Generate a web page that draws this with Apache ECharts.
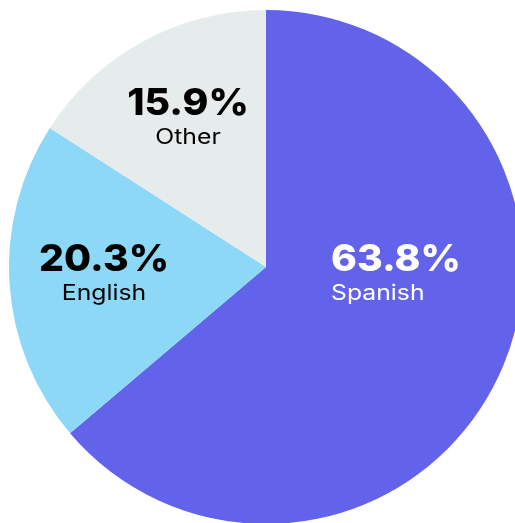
<!DOCTYPE html>
<html><head><meta charset="utf-8">
<script src="https://cdn.jsdelivr.net/npm/echarts@6/dist/echarts.min.js"></script>
<style>html,body{margin:0;padding:0;background:#fff}#c{width:515px;height:523px}</style>
</head><body><div id="c"></div>
<script>
const categories = ['Spanish', 'English', 'Other'];
const values = [63.8, 20.3, 15.9];
const colors = ['#6262EA', '#8CD8F6', '#E6EBEB'];
const textColors = ['#ffffff', '#000000', '#000000'];

const chart = echarts.init(document.getElementById('c'), null, {renderer: 'canvas'});
const font = 'Inter, sans-serif';
const labelPos = [
  {x: 331, y: 260, align: 'left'},
  {x: 104, y: 260, align: 'center'},
  {x: 188, y: 104, align: 'center'}
];
const graphics = [];
categories.forEach((c, i) => {
  const p = labelPos[i];
  graphics.push({type: 'text', z: 100, x: p.x, y: p.y, scaleX: 1.06, style: {
    text: values[i].toFixed(1) + '%', fill: textColors[i],
    fontFamily: font, fontWeight: 800, fontSize: 37,
    textAlign: p.align, textVerticalAlign: 'middle'}});
  graphics.push({type: 'text', z: 100, x: p.x, y: p.y + 34, scaleX: 1.18, style: {
    text: c, fill: textColors[i],
    fontFamily: font, fontWeight: 400, fontSize: 21,
    textAlign: p.align, textVerticalAlign: 'middle'}});
});
chart.setOption({
  animation: false,
  series: [{
    type: 'pie',
    center: [266, 267],
    radius: 257,
    startAngle: 90,
    clockwise: true,
    label: {show: false},
    labelLine: {show: false},
    emphasis: {disabled: true},
    itemStyle: {borderWidth: 0},
    data: categories.map((c, i) => ({name: c, value: values[i], itemStyle: {color: colors[i]}}))
  }],
  graphic: graphics
});
</script></body></html>
